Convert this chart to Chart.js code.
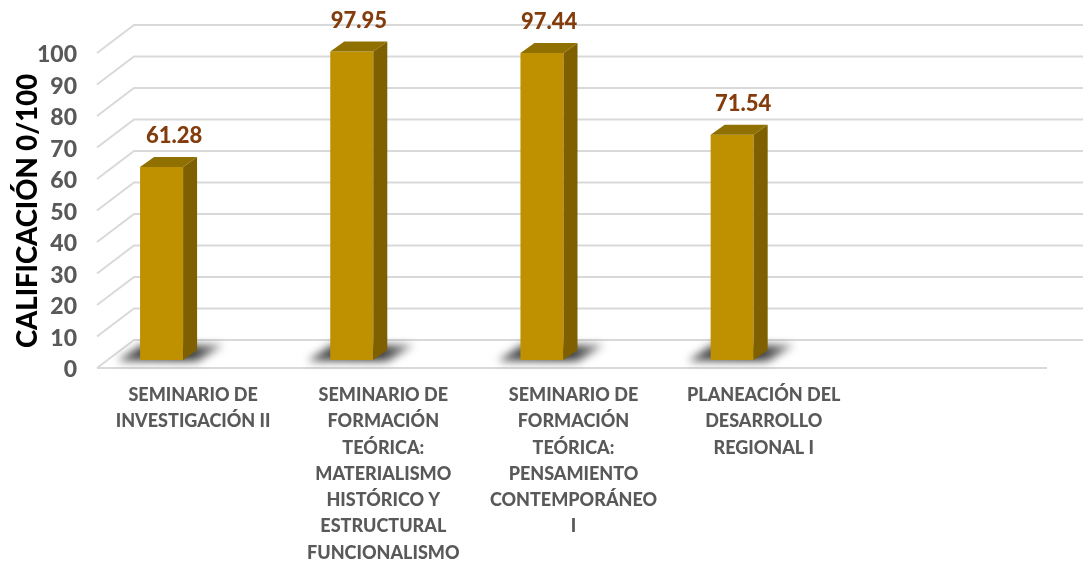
<!DOCTYPE html>
<html>
<head>
<meta charset="utf-8">
<style>
  html, body { margin: 0; padding: 0; background: #fff; }
  canvas { display: block; }
</style>
<script src="https://cdn.jsdelivr.net/npm/chart.js@4/dist/chart.umd.min.js"></script>
</head>
<body>
<canvas id="grafica" width="1088" height="561"></canvas>
<script>
// datos
const categorias = [
  ["SEMINARIO DE", "INVESTIGACIÓN II"],
  ["SEMINARIO DE", "FORMACIÓN", "TEÓRICA:", "MATERIALISMO", "HISTÓRICO Y", "ESTRUCTURAL", "FUNCIONALISMO"],
  ["SEMINARIO DE", "FORMACIÓN", "TEÓRICA:", "PENSAMIENTO", "CONTEMPORÁNEO", "I"],
  ["PLANEACIÓN DEL", "DESARROLLO", "REGIONAL I"],
  ""
];
const calificaciones = [61.28, 97.95, 97.44, 71.54, null];
// segunda serie vacia: es la que corre las barras a la izquierda de su categoria
const serieVacia = [null, null, null, null, null];
const tituloEjeY = "CALIFICACIÓN 0/100";

const FUENTE = "Lato, 'Open Sans', sans-serif";

// falso 3D: paredes, sombra y caras del prisma
const falso3d = {
  id: "falso3d",
  beforeDatasetsDraw(chart) {
    const { ctx, scales: { y } } = chart;
    ctx.save();
    ctx.strokeStyle = "#D9D9D9";
    ctx.lineWidth = 2;
    y.ticks.forEach(t => {
      const py = y.getPixelForValue(t.value);
      ctx.beginPath();
      ctx.moveTo(97, py + 8);
      if (t.value === 0) {
        ctx.lineTo(1047, py + 8);
        ctx.moveTo(97, py + 8);
      }
      ctx.lineTo(134, py - 20);
      ctx.lineTo(1083, py - 20);
      ctx.stroke();
    });
    // sombra en el piso, se desvanece hacia la derecha
    const barras = chart.getDatasetMeta(0).data;
    ctx.filter = "blur(4px)";
    barras.forEach((b, i) => {
      if (calificaciones[i] === null) return;
      const degradado = ctx.createLinearGradient(b.x - 44, 0, b.x + 62, 0);
      degradado.addColorStop(0, "#555555");
      degradado.addColorStop(0.65, "#333333");
      degradado.addColorStop(1, "#999999");
      ctx.fillStyle = degradado;
      ctx.beginPath();
      ctx.moveTo(b.x - 44, b.base + 1);
      ctx.lineTo(b.x + 36, b.base + 1);
      ctx.lineTo(b.x + 62, b.base - 15);
      ctx.lineTo(b.x - 20, b.base - 15);
      ctx.closePath();
      ctx.fill();
    });
    ctx.restore();
  },
  afterDatasetsDraw(chart) {
    const { ctx } = chart;
    const dx = 14, dy = 10;
    const barras = chart.getDatasetMeta(0).data;
    ctx.save();
    barras.forEach((b, i) => {
      const v = calificaciones[i];
      if (v === null) return;
      const izq = b.x - b.width / 2, der = b.x + b.width / 2;
      // lateral
      ctx.fillStyle = "#7F6000";
      ctx.beginPath();
      ctx.moveTo(der, b.y);
      ctx.lineTo(der + dx, b.y - dy);
      ctx.lineTo(der + dx, b.base - dy);
      ctx.lineTo(der, b.base);
      ctx.closePath();
      ctx.fill();
      // tapa
      ctx.fillStyle = "#907000";
      ctx.beginPath();
      ctx.moveTo(izq, b.y);
      ctx.lineTo(izq + dx, b.y - dy);
      ctx.lineTo(der + dx, b.y - dy);
      ctx.lineTo(der, b.y);
      ctx.closePath();
      ctx.fill();
      // etiqueta de valor, se corre un poco segun la altura
      ctx.fillStyle = "#843C0C";
      ctx.font = "900 22px " + FUENTE;
      ctx.textAlign = "center";
      ctx.textBaseline = "middle";
      ctx.fillText(v.toFixed(2), b.x + 12.5 - (v - 61.28) * 0.15, b.y - 31);
    });
    // titulo del eje
    ctx.translate(28, 211);
    ctx.rotate(-Math.PI / 2);
    ctx.fillStyle = "#000";
    ctx.font = "900 27.5px " + FUENTE;
    ctx.textAlign = "center";
    ctx.textBaseline = "middle";
    ctx.fillText(tituloEjeY, 0, 0);
    ctx.restore();
  }
};

new Chart(document.getElementById("grafica").getContext("2d"), {
  type: "bar",
  plugins: [falso3d],
  data: {
    labels: categorias,
    datasets: [
      { data: calificaciones, backgroundColor: "#BF9000", borderWidth: 0 },
      { data: serieVacia, backgroundColor: "#BF9000", borderWidth: 0 }
    ]
  },
  options: {
    responsive: false,
    animation: false,
    categoryPercentage: 0.663,
    barPercentage: 0.6825,
    layout: { padding: { top: 45, right: 39, left: 0, bottom: 0 } },
    plugins: { legend: { display: false }, tooltip: { enabled: false } },
    scales: {
      x: {
        grid: { display: false },
        border: { display: false },
        afterFit(s) { s.height = 201; },
        ticks: {
          autoSkip: false,
          maxRotation: 0,
          minRotation: 0,
          padding: 14,
          color: "#595959",
          font: { family: FUENTE, size: 18, weight: "900", lineHeight: 1.46 }
        }
      },
      y: {
        min: 0,
        max: 100,
        grid: { display: false },
        border: { display: false },
        afterFit(s) { s.width = 98; },
        ticks: {
          autoSkip: false,
          stepSize: 10,
          padding: 13,
          labelOffset: 10,
          color: "#595959",
          font: { family: FUENTE, size: 23, weight: "900" }
        }
      }
    }
  }
});
</script>
</body>
</html>
